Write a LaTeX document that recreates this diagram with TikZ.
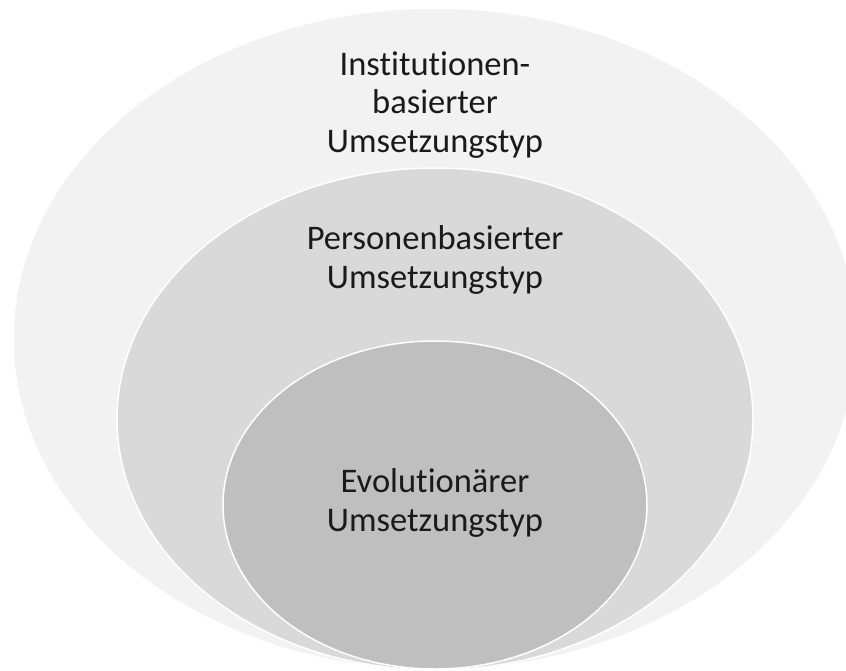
\documentclass[tikz,border=0pt]{standalone}
\usepackage{fontspec}
\setmainfont[Ligatures=NoCommon]{Carlito}
\usetikzlibrary{shapes.geometric}

\definecolor{ringouter}{HTML}{F2F2F2}
\definecolor{ringmiddle}{HTML}{D9D9D9}
\definecolor{ringinner}{HTML}{BFBFBF}
\definecolor{ringtext}{HTML}{1A1A1A}

\tikzset{
  ring/.style={draw=white, line width=1.5pt, ellipse, inner sep=0pt},
  ringlabel/.style={align=center, anchor=base, inner sep=0pt, text=ringtext,
    font=\fontsize{34.5}{38.5}\selectfont}
}

\begin{document}
\begin{tikzpicture}[x=1pt, y=-1pt]
\useasboundingbox (0,0) rectangle (846,670);
% Rings
\node[ring, fill=ringouter, minimum width=844pt, minimum height=662pt] (outer) at (435,339) {};
\node[ring, fill=ringmiddle, minimum width=636pt, minimum height=502pt] (middle) at (435,419) {};
\node[ring, fill=ringinner, minimum width=424pt, minimum height=328pt] (inner) at (435,505) {};

% Labels (anchored at the last line)
\node[ringlabel] (outertext) at (435,152) {Institutionen-\\basierter\\Umsetzungstyp};
\node[ringlabel] (middletext) at (435,288) {Personenbasierter\\Umsetzungstyp};
\node[ringlabel] (innertext) at (435,531) {Evolutionärer\\Umsetzungstyp};
\end{tikzpicture}
\end{document}
